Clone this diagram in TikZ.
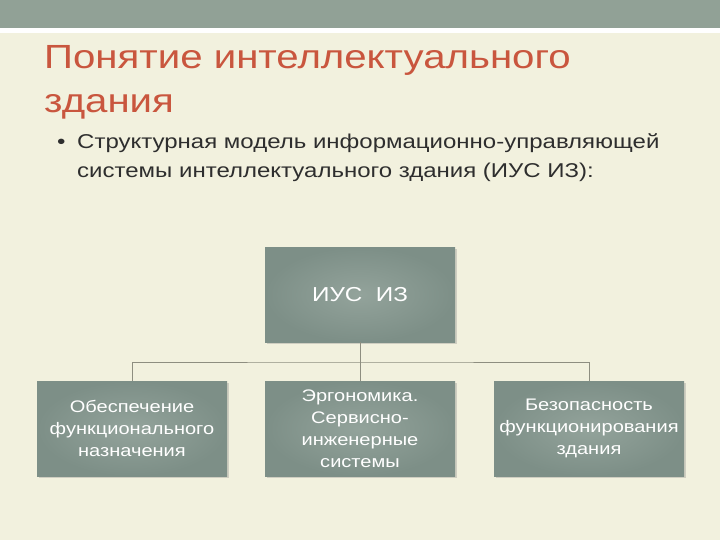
\documentclass[tikz,border=0pt]{standalone}
\usepackage{fontspec}
\setmainfont[FakeStretch=1.2]{Liberation Sans}
\usetikzlibrary{shadows}
\definecolor{bg}{HTML}{F2F1DE}
\definecolor{band}{HTML}{91A196}
\definecolor{titlec}{HTML}{C9563E}
\definecolor{bodyc}{HTML}{2E2E2E}
\definecolor{boxout}{HTML}{7D8F87}
\definecolor{boxin}{HTML}{93A39B}
\definecolor{linec}{HTML}{8E8E80}
\tikzset{
  x=1pt, y=-1pt,
  box/.style={draw=none, minimum width=190pt, minimum height=95pt, inner sep=2pt,
    inner color=boxin, outer color=boxout, text=white, align=center,
    drop shadow={shadow xshift=1.5pt, shadow yshift=-1.5pt, opacity=0.3}},
  conn/.style={draw=linec, line width=0.8pt},
  ttl/.style={anchor=base west, text=titlec, font=\fontsize{33.5}{40}\selectfont, inner sep=0},
  txt/.style={anchor=base west, text=bodyc, font=\fontsize{20}{24}\selectfont, inner sep=0}
}
\begin{document}
\begin{tikzpicture}
\fill[bg] (0,0) rectangle (720,540);
\useasboundingbox (0,0) rectangle (720,540);
\fill[band] (0,0) rectangle (720,28);
\fill[white] (0,28) rectangle (720,33);
\node[ttl] (t1) at (44,69) {Понятие интеллектуального};
\node[ttl] (t2) at (44,113) {здания};
\node[txt] (b0) at (57,149) {•};
\node[txt] (b1) at (77,149) {Структурная модель информационно-управляющей};
\node[txt] (b2) at (77,178) {системы интеллектуального здания (ИУС ИЗ):};
\node[box, font=\fontsize{20.2}{24}\selectfont] (top) at (360,294.5) {ИУС\ \ ИЗ};
\node[box, font=\fontsize{16.7}{22}\selectfont] (l) at (132,428.5) {Обеспечение\\функционального\\назначения};
\node[box, font=\fontsize{16.7}{22}\selectfont] (m) at (360,428.5) {Эргономика.\\Сервисно-\\инженерные\\системы};
\node[box, font=\fontsize{16.7}{22}\selectfont] (r) at (589,428.5) {Безопасность\\функционирования\\здания};
\coordinate (j) at (360,362);
\draw[conn] (top.south) -- (j);
\draw[conn] (l.north) |- (j) -| (r.north);
\draw[conn] (j) -- (m.north);
\end{tikzpicture}
\end{document}
